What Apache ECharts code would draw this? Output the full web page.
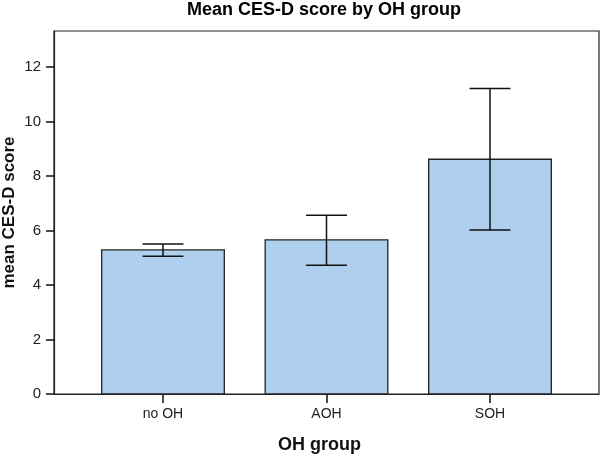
<!DOCTYPE html>
<html>
<head>
<meta charset="utf-8">
<script src="https://cdn.jsdelivr.net/npm/echarts@6/dist/echarts.min.js"></script>
<style>
  html, body { margin: 0; padding: 0; background: #fff; }
  #chart { width: 600px; height: 454px; }
</style>
</head>
<body>
<div id="chart"></div>
<script>
// 各组数据
const categories = ['no OH', 'AOH', 'SOH']
const meanScores = [5.29, 5.66, 8.62]
const lowerBounds = [5.06, 4.73, 6.02]
const upperBounds = [5.51, 6.56, 11.22]
const yTicks = [0, 2, 4, 6, 8, 10, 12]

const fontFamily = '"Liberation Sans", Arial, sans-serif'
const chart = echarts.init(document.getElementById('chart'))

const xPositions = categories.map((c, i) => i)

// 柱子
const renderBar = (params, api) => {
  const x = api.value(0)
  const y = api.value(1)
  const topLeft = api.coord([x, y])
  const base = api.coord([x, 0])
  const width = api.size([0.75, 0])[0]
  return {
    type: 'rect',
    shape: { x: topLeft[0] - width / 2, y: topLeft[1], width: width, height: base[1] - topLeft[1] },
    style: { fill: '#aed0ee', stroke: '#222', lineWidth: 1.3 }
  }
}

// 误差线
const renderErrorBar = (params, api) => {
  const x = api.value(0)
  const low = api.coord([x, api.value(1)])
  const high = api.coord([x, api.value(2)])
  const cap = api.size([0.25, 0])[0] / 2
  const style = { stroke: '#111', lineWidth: 1.5 }
  return {
    type: 'group',
    children: [
      { type: 'line', shape: { x1: low[0], y1: low[1], x2: high[0], y2: high[1] }, style },
      { type: 'line', shape: { x1: low[0] - cap, y1: low[1], x2: low[0] + cap, y2: low[1] }, style },
      { type: 'line', shape: { x1: high[0] - cap, y1: high[1], x2: high[0] + cap, y2: high[1] }, style }
    ]
  }
}

const option = {
  animation: false,
  textStyle: { fontFamily },
  title: {
    text: 'Mean CES-D score by OH group',
    left: 324,
    top: 1,
    padding: 0,
    textAlign: 'center',
    textStyle: { fontSize: 18, fontWeight: 'bold', color: '#000', fontFamily }
  },
  grid: {
    left: 54, right: 1, top: 31, bottom: 60,
    outerBoundsMode: 'none',
    show: true, borderColor: '#222', borderWidth: 1.2
  },
  xAxis: {
    type: 'value',
    min: -2 / 3,
    max: 8 / 3,
    splitLine: { show: false },
    axisLine: { onZero: false, lineStyle: { color: '#222', width: 1.2 } },
    axisTick: { show: true, length: 9, customValues: xPositions, lineStyle: { color: '#111', width: 1.5 } },
    axisLabel: {
      customValues: xPositions,
      formatter: v => categories[Math.round(v)],
      color: '#222', fontSize: 14, margin: 13, fontFamily
    },
    name: 'OH group',
    nameLocation: 'middle',
    nameGap: 42,
    nameMoveOverlap: false,
    nameTextStyle: { fontSize: 18, fontWeight: 'bold', color: '#111', fontFamily, padding: [0, 14, 0, 0] }
  },
  yAxis: {
    type: 'value',
    min: 0,
    max: 13.33,
    splitLine: { show: false },
    axisLine: { show: true, onZero: false, lineStyle: { color: '#222', width: 1.2 } },
    axisTick: { show: true, length: 8, customValues: yTicks, lineStyle: { color: '#111', width: 1.5 } },
    axisLabel: { customValues: yTicks, color: '#222', fontSize: 15, margin: 13, fontFamily },
    name: 'mean CES-D score',
    nameLocation: 'middle',
    nameGap: 36,
    nameMoveOverlap: false,
    nameTextStyle: { fontSize: 17, fontWeight: 'bold', color: '#111', fontFamily }
  },
  series: [
    {
      name: 'mean',
      type: 'custom',
      renderItem: renderBar,
      encode: { x: 0, y: 1 },
      data: xPositions.map((x, i) => [x, meanScores[i]])
    },
    {
      name: 'error',
      type: 'custom',
      renderItem: renderErrorBar,
      encode: { x: 0, y: [1, 2] },
      z: 3,
      data: xPositions.map((x, i) => [x, lowerBounds[i], upperBounds[i]])
    }
  ]
}

chart.setOption(option)
</script>
</body>
</html>
